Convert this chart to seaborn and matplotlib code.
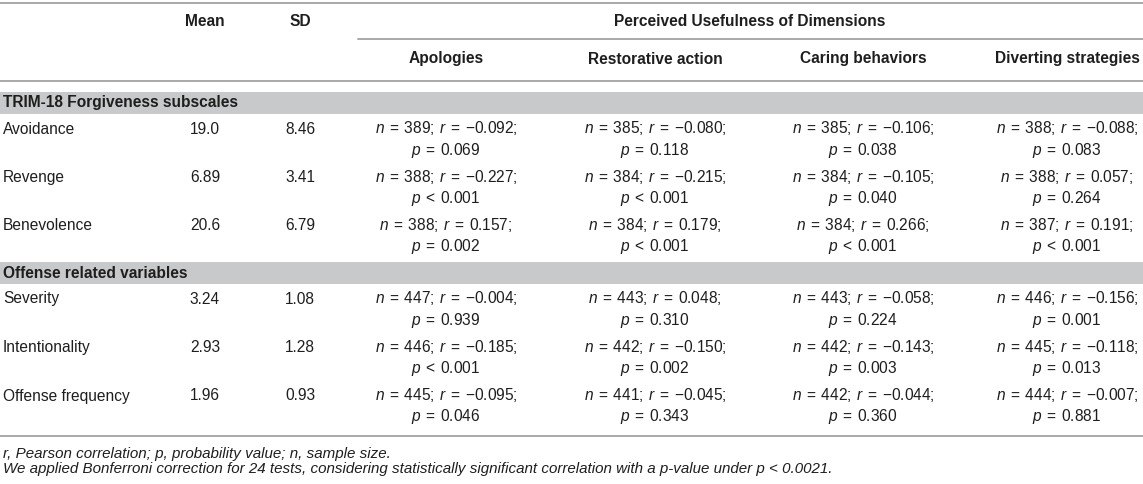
import matplotlib
matplotlib.use("Agg")
import matplotlib.pyplot as plt
import seaborn as sns

# table content
sections = ["TRIM-18 Forgiveness subscales", "Offense related variables"]
section_rows = [["Avoidance", "Revenge", "Benevolence"],
                ["Severity", "Intentionality", "Offense frequency"]]
means = ["19.0", "6.89", "20.6", "3.24", "2.93", "1.96"]
sds = ["8.46", "3.41", "6.79", "1.08", "1.28", "0.93"]
dims = ["Apologies", "Restorative action", "Caring behaviors", "Diverting strategies"]

n_vals = [[389, 385, 385, 388],
          [388, 384, 384, 388],
          [388, 384, 384, 387],
          [447, 443, 443, 446],
          [446, 442, 442, 445],
          [445, 441, 442, 444]]
r_vals = [[-0.092, -0.080, -0.106, -0.088],
          [-0.227, -0.215, -0.105, 0.057],
          [0.157, 0.179, 0.266, 0.191],
          [-0.004, 0.048, -0.058, -0.156],
          [-0.185, -0.150, -0.143, -0.118],
          [-0.095, -0.045, -0.044, -0.007]]
p_vals = [["0.069", "0.118", "0.038", "0.083"],
          ["<0.001", "<0.001", "0.040", "0.264"],
          ["0.002", "<0.001", "<0.001", "<0.001"],
          ["0.939", "0.310", "0.224", "0.001"],
          ["<0.001", "0.002", "0.003", "0.013"],
          ["0.046", "0.343", "0.360", "0.881"]]

footnotes = ["r, Pearson correlation; p, probability value; n, sample size.",
             "We applied Bonferroni correction for 24 tests, considering statistically "
             "significant correlation with a p-value under p < 0.0021."]

sns.set_theme(style="white")
plt.rcParams["font.family"] = ["Liberation Sans", "DejaVu Sans"]
plt.rcParams["mathtext.fontset"] = "custom"
plt.rcParams["mathtext.rm"] = "Liberation Sans"
plt.rcParams["mathtext.it"] = "Liberation Sans:italic"

W, H = 1143, 484
fig = plt.figure(figsize=(W / 100, H / 100), dpi=100)
ax = fig.add_axes([0, 0, 1, 1])
ax.set_xlim(0, W)
ax.set_ylim(H, 0)
ax.axis("off")

txt = "#1e1e1e"
rule = "#a9a9a9"
band = "#c8c9ca"
fs = 11.2
sp = " \u200a"   # a little wider than a plain space

mean_x, sd_x = 205, 300
dim_x = [446, 655, 863, 1067]

def fmt_num(v):
    return f"{v:.3f}".replace("-", "\u2212")

def eq(sym):
    return f"{sp}{sym}{sp}"

# rules
ax.plot([0, W], [3, 3], color=rule, lw=1.4)
ax.plot([358, W], [39, 39], color=rule, lw=1.4)
ax.plot([0, W], [81, 81], color=rule, lw=1.4)

# headers
ax.text(mean_x, 22, "Mean", ha="center", va="center", fontsize=fs, fontweight="bold", color=txt)
ax.text(sd_x, 22, "SD", ha="center", va="center", fontsize=fs, fontweight="bold", color=txt)
ax.text(750, 22, "Perceived Usefulness of Dimensions", ha="center", va="center",
        fontsize=fs, fontweight="bold", color=txt)
for x, d in zip(dim_x, dims):
    ax.text(x, 59, d, ha="center", va="center", fontsize=fs, fontweight="bold", color=txt)

# body
y = 92
i = 0
for sec, rows in zip(sections, section_rows):
    ax.fill_between([0, W], y, y + 22, color=band, lw=0)
    ax.text(3, y + 11, sec, ha="left", va="center", fontsize=fs, fontweight="bold", color=txt)
    ry = y + 37
    for name in rows:
        ax.text(3, ry, name, ha="left", va="center", fontsize=fs, color=txt)
        ax.text(mean_x, ry, means[i], ha="center", va="center", fontsize=fs, color=txt)
        ax.text(sd_x, ry, sds[i], ha="center", va="center", fontsize=fs, color=txt)
        for j, x in enumerate(dim_x):
            line1 = f"$n${eq('=')}{n_vals[i][j]};{sp}$r${eq('=')}{fmt_num(r_vals[i][j])};"
            p = p_vals[i][j]
            line2 = f"$p${eq('<')}{p[1:]}" if p.startswith("<") else f"$p${eq('=')}{p}"
            ax.text(x, ry - 1, line1, ha="center", va="center", fontsize=fs, color=txt)
            ax.text(x, ry + 21, line2, ha="center", va="center", fontsize=fs, color=txt)
        ry += 48.5
        i += 1
    y = ry - 48.5 + 36

ax.plot([0, W], [436, 436], color=rule, lw=1.4)

ax.text(3, 454, footnotes[0], ha="left", va="center", fontsize=fs - 0.3, style="italic", color=txt)
ax.text(3, 469, footnotes[1], ha="left", va="center", fontsize=fs - 0.3, style="italic", color=txt)

fig.savefig("out.png", dpi=100, facecolor="white")
